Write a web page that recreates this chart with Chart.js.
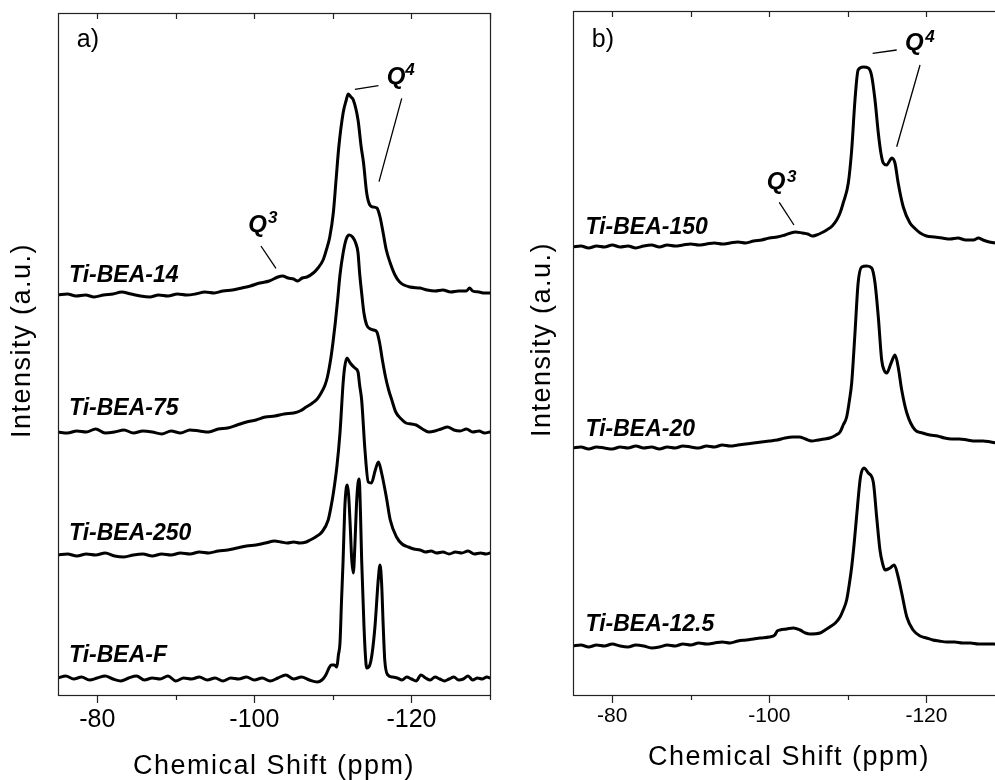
<!DOCTYPE html>
<html>
<head>
<meta charset="utf-8">
<script src="https://cdn.jsdelivr.net/npm/chart.js@4.4.0/dist/chart.umd.min.js"></script>
<style>
    html, body { margin: 0; padding: 0; background: #fff; overflow: hidden; width: 995px; height: 780px; }
    #panelA { position: absolute; left: 0; top: 0; }
    #panelB { position: absolute; left: 495px; top: 0; }
</style>
</head>
<body>
<canvas id="panelA" width="500" height="780"></canvas>
<canvas id="panelB" width="520" height="780"></canvas>
<script>
// 29Si MAS NMR spectra, [chemical shift (ppm), intensity (a.u., stacked offsets)]
const tiBea14 = [[-75,400],[-76.2,401],[-77.3,399],[-78.5,400],[-79.6,398],[-80.8,400],[-82,401],[-83.1,403],[-84.3,401],[-85.5,399],[-86.7,398],[-87.8,400],[-89,399],[-90.2,401],[-91.4,400],[-92.5,401],[-93.7,403],[-94.9,402],[-96,404],[-97.2,405],[-98.4,407],[-99.5,409],[-100.7,412],[-101.9,414],[-103,418],[-103.6,419],[-104.3,417],[-105,416],[-105.5,414],[-106.1,417],[-106.7,418],[-107.5,422],[-108.1,427],[-108.75,435],[-109.2,446],[-109.6,458],[-110.05,482],[-110.4,515],[-110.75,548],[-111.3,582],[-111.7,595],[-111.95,601],[-112.3,598],[-112.6,595],[-113.2,575],[-113.6,548],[-113.9,532],[-114.3,502],[-114.7,490],[-115.1,488],[-115.6,487],[-116.0,478],[-116.4,462],[-116.8,445],[-117.3,432],[-117.9,420],[-118.5,413],[-119.8,408],[-121.1,407],[-122,405],[-123,404],[-124,405],[-125,403],[-126,404],[-127,404],[-127.4,407],[-127.8,404],[-128.6,403],[-129.3,402],[-130,402]];
const tiBea75 = [[-75,263],[-76.2,262],[-77.4,264],[-78.6,263],[-79.8,266],[-81,262],[-82.2,263],[-83.4,265],[-84.6,262],[-85.8,264],[-87,263],[-88.2,261],[-89.4,264],[-90.6,262],[-91.8,265],[-93,264],[-94.2,263],[-95.4,266],[-96.6,267],[-97.8,270],[-99,273],[-100.2,275],[-101.4,278],[-102.6,279],[-103.8,281],[-105,282],[-105.8,284],[-106.6,288],[-107.4,292],[-108,296],[-108.5,302],[-109,310],[-109.3,318],[-109.7,335],[-110,352],[-110.3,372],[-110.6,395],[-110.9,420],[-111.3,442],[-111.7,456],[-112.08,460],[-112.5,458],[-112.9,452],[-113.2,442],[-113.4,422],[-113.66,402],[-113.95,382],[-114.3,370],[-114.8,366],[-115.2,365],[-115.6,363],[-115.95,352],[-116.3,335],[-116.7,318],[-117.1,305],[-117.5,295],[-118,283],[-118.7,276],[-119.3,272],[-120,271],[-120.6,270],[-121.4,266],[-122.2,263],[-123,264],[-123.8,266],[-124.6,268],[-125.4,265],[-126.2,264],[-127,266],[-127.8,263],[-128.6,264],[-129.3,262],[-130,263]];
const tiBea250 = [[-75,140],[-76.2,141],[-77.4,139],[-78.6,141],[-79.8,140],[-81,142],[-82.2,139],[-83.4,138],[-84.6,140],[-85.8,141],[-87,139],[-88.2,141],[-89.4,140],[-90.6,142],[-91.8,141],[-93,143],[-94.2,142],[-95.4,144],[-96.6,145],[-97.8,147],[-99,149],[-100.2,150],[-101.4,152],[-102.6,154],[-103.4,153],[-104.2,152],[-105,153],[-105.8,152],[-106.6,153],[-107.1,155],[-107.8,158],[-108.6,163],[-109.4,175],[-109.8,190],[-110.06,202],[-110.5,228],[-110.9,262],[-111.3,312],[-111.5,328],[-111.8,337],[-112.2,332],[-112.8,327],[-113.2,323],[-113.4,310],[-113.66,295],[-114.08,245],[-114.5,213],[-114.9,212],[-115.4,225],[-115.8,233],[-116.2,222],[-116.8,198],[-117.3,175],[-118.1,158],[-118.8,151],[-119.6,148],[-120.3,146],[-121.1,145],[-121.8,143],[-122.5,144],[-123.2,142],[-124,143],[-124.8,141],[-125.6,143],[-126.4,142],[-127.2,144],[-128,141],[-128.8,142],[-129.5,141],[-130,142]];
const tiBeaF = [[-75,17],[-76,19],[-77,16],[-78,18],[-79,15],[-80,17],[-81,19],[-82,16],[-83,14],[-84,17],[-85,19],[-86,15],[-87,17],[-88,16],[-89,19],[-90,14],[-91,17],[-92,16],[-93,18],[-94,15],[-95,17],[-96,14],[-97,17],[-98,16],[-99,18],[-100,15],[-101,17],[-102,14],[-103,17],[-104,20],[-105,16],[-106,18],[-107,15],[-108,13],[-108.6,15],[-109.1,20],[-109.5,27],[-109.8,30],[-110.2,30],[-110.5,28],[-110.7,40],[-110.9,52],[-111.1,95],[-111.3,135],[-111.5,185],[-111.7,207],[-111.85,210],[-112.0,200],[-112.2,170],[-112.4,135],[-112.6,122],[-112.8,150],[-113.0,190],[-113.2,212],[-113.35,216],[-113.5,185],[-113.66,135],[-113.96,68],[-114.15,38],[-114.3,27],[-114.7,30],[-115.0,42],[-115.35,68],[-115.8,118],[-116.0,130],[-116.2,112],[-116.4,70],[-116.6,35],[-117.0,20],[-117.6,18],[-118.2,17],[-118.8,15],[-119.4,18],[-120,16],[-120.6,14],[-121.2,20],[-121.8,17],[-122.4,15],[-123,18],[-123.6,16],[-124.2,14],[-124.8,16],[-125.4,18],[-126,15],[-126.6,16],[-127.2,19],[-127.8,15],[-128.4,17],[-129,16],[-129.6,18],[-130,17]];

const tiBea150 = [[-75,448],[-76,449],[-77,447],[-78,449],[-79,448],[-80,450],[-81,448],[-82,449],[-83,447],[-84,449],[-85,450],[-86,448],[-87,450],[-88,449],[-89,450],[-90,451],[-91,450],[-92,451],[-93,452],[-94,451],[-95,452],[-96,453],[-97,452],[-98,454],[-99,455],[-100,457],[-101,458],[-102,460],[-103.3,463],[-104.2,462],[-104.9,461],[-105.5,459],[-106,460],[-106.6,462],[-107.3,465],[-108,469],[-108.57,475],[-109,482],[-109.4,492],[-110.05,512],[-110.48,545],[-110.9,595],[-111.3,625],[-111.96,628],[-112.6,627],[-113.0,620],[-113.45,595],[-113.87,562],[-114.2,542],[-114.5,532],[-114.94,530],[-115.3,534],[-115.57,537],[-115.99,532],[-116.4,512],[-117.05,488],[-117.9,472],[-118.6,466],[-119.2,462],[-120,459],[-121,458],[-122,457],[-123,456],[-124,457],[-125,455],[-126,455],[-126.6,457],[-127.2,455],[-128,453],[-129,452],[-130,452]];
const tiBea20 = [[-75,247],[-76,248],[-77,246],[-78,248],[-79,247],[-80,246],[-81,248],[-82,247],[-83,249],[-84,247],[-85,248],[-86,246],[-87,248],[-88,247],[-89,249],[-90,248],[-91,247],[-92,249],[-93,248],[-94,250],[-95,249],[-96,250],[-97,251],[-98,252],[-99,253],[-100,254],[-101,255],[-102,257],[-103,258],[-103.8,258],[-104.6,256],[-105.4,254],[-106.2,255],[-107,256],[-107.7,257],[-108.5,260],[-109,263],[-109.4,270],[-109.84,278],[-110.2,295],[-110.48,312],[-110.9,362],[-111.3,412],[-111.75,428],[-112.4,429],[-113.03,427],[-113.45,412],[-113.87,378],[-114.3,335],[-114.6,325],[-114.94,322],[-115.5,332],[-116.0,340],[-116.4,328],[-116.85,305],[-117.5,282],[-118.55,265],[-119.5,262],[-120.45,260],[-121.4,259],[-122.3,257],[-123.2,256],[-124.2,256],[-125.2,255],[-126.2,254],[-127.2,254],[-128.2,253],[-129.2,252],[-130,252]];
const tiBea125 = [[-75,49],[-76,50],[-77,48],[-78,50],[-79,49],[-80,51],[-81,49],[-82,48],[-83,50],[-84,49],[-85,47],[-86,48],[-87,50],[-88,49],[-89,51],[-90,50],[-91,52],[-92,51],[-93,52],[-94,53],[-95,52],[-96,54],[-97,55],[-98,56],[-98.8,57],[-100,58],[-100.7,60],[-101,64],[-101.35,65],[-102.2,66],[-103.05,67],[-103.9,65],[-104.6,62],[-105.2,61],[-106.45,62],[-107.1,65],[-107.7,68],[-108.4,72],[-109,78],[-109.4,85],[-109.84,95],[-110.2,112],[-110.48,128],[-110.8,152],[-111.1,178],[-111.6,218],[-112.04,227],[-112.6,222],[-113.23,213],[-113.66,178],[-114.08,145],[-114.4,132],[-114.72,125],[-115.36,127],[-115.9,130],[-116.4,118],[-116.85,102],[-117.5,78],[-118.3,65],[-119.2,59],[-120,57],[-120.8,55],[-121.6,54],[-122.6,53],[-123.6,53],[-124.6,52],[-125.6,52],[-126.6,51],[-127.6,51],[-128.6,51],[-129.4,50],[-130,51]];

const seriesA = [tiBea14, tiBea75, tiBea250, tiBeaF];
const seriesB = [tiBea150, tiBea20, tiBea125];
const namesA = ['Ti-BEA-14', 'Ti-BEA-75', 'Ti-BEA-250', 'Ti-BEA-F'];
const namesB = ['Ti-BEA-150', 'Ti-BEA-20', 'Ti-BEA-12.5'];

const shiftTicks = [-80, -90, -100, -110, -120, -130];
const shiftLabels = [-80, -100, -120];

// where the sample names sit (shift, intensity of text baseline)
const namePosA = [[-76.4, 413], [-76.4, 280], [-76.4, 155], [-76.4, 33]];
const namePosB = [[-76.6, 461], [-76.6, 259], [-76.6, 64]];

// Q3 / Q4 marks: text anchor, superscript anchor, leader lines
const qMarksA = [
    {q: '4', at: [-116.85, 611], sup: [-119.2, 620], lines: [[[-112.8, 605.7], [-115.8, 609.3]], [[-118.76, 596.7], [-115.87, 513.3]]]},
    {q: '3', at: [-99.23, 463], sup: [-101.75, 471.7], lines: [[[-100.84, 449], [-102.75, 426.7]]]}
];
const qMarksB = [
    {q: '4', at: [-117.27, 645.5], sup: [-119.85, 653.3], lines: [[[-113.15, 641.7], [-116.21, 645]], [[-119.18, 630], [-116.21, 548.3]]]},
    {q: '3', at: [-99.66, 506.5], sup: [-102.25, 513.3], lines: [[[-101.26, 492.7], [-103.13, 470]]]}
];

const FONT = "'Liberation Sans', Arial, sans-serif";

const panelPlugin = {
    id: 'panel',
    beforeDraw(chart) {
        // axis titles in the original are drawn a bit spaced out
        for (const s of [chart.scales.x, chart.scales.y]) {
            if (s._spaced) continue;
            const orig = s.drawTitle;
            s.drawTitle = function() {
                this.ctx.save();
                this.ctx.letterSpacing = '1.5px';
                orig.call(this);
                this.ctx.restore();
            };
            s._spaced = true;
        }
    },
    afterDatasetsDraw(chart, args, opts) {
        const {ctx, chartArea: a, scales: {x, y}} = chart;
        ctx.save();

        // frame
        ctx.strokeStyle = '#222';
        ctx.lineWidth = 1.2;
        ctx.strokeRect(a.left + 0.5, a.top + 0.5, a.right - a.left, a.bottom - a.top);

        // ticks: outward at the bottom, inward at the top
        ctx.beginPath();
        for (const v of shiftTicks) {
            const px = Math.round(x.getPixelForValue(v)) + 0.5;
            const major = shiftLabels.includes(v);
            ctx.moveTo(px, a.bottom);
            ctx.lineTo(px, a.bottom + (major ? 8 : 5));
            ctx.moveTo(px, a.top);
            ctx.lineTo(px, a.top + 6);
        }
        ctx.stroke();

        ctx.fillStyle = '#000';
        ctx.textBaseline = 'alphabetic';
        ctx.textAlign = 'left';

        // panel letter
        ctx.font = '25px ' + FONT;
        ctx.fillText(opts.letter, x.getPixelForValue(-77.4), y.getPixelForValue(648));

        // sample names
        ctx.font = 'italic bold 23px ' + FONT;
        opts.names.forEach((n, i) => {
            const p = opts.namePos[i];
            ctx.fillText(n, x.getPixelForValue(p[0]), y.getPixelForValue(p[1]));
        });

        // Q marks
        ctx.lineWidth = 1.3;
        ctx.strokeStyle = '#000';
        for (const m of opts.qMarks) {
            ctx.font = 'italic bold 24px ' + FONT;
            ctx.fillText('Q', x.getPixelForValue(m.at[0]), y.getPixelForValue(m.at[1]));
            ctx.font = 'italic bold 17px ' + FONT;
            ctx.fillText(m.q, x.getPixelForValue(m.sup[0]), y.getPixelForValue(m.sup[1]));
            ctx.beginPath();
            for (const l of m.lines) {
                ctx.moveTo(x.getPixelForValue(l[0][0]), y.getPixelForValue(l[0][1]));
                ctx.lineTo(x.getPixelForValue(l[1][0]), y.getPixelForValue(l[1][1]));
            }
            ctx.stroke();
        }
        ctx.restore();
    }
};

function createPanel(id, series, p) {
    const ctx = document.getElementById(id).getContext('2d');
    return new Chart(ctx, {
        type: 'line',
        data: {
            datasets: series.map(s => ({
                data: s,
                borderColor: '#000',
                borderWidth: 3,
                pointRadius: 0,
                fill: false,
                cubicInterpolationMode: 'monotone',
                borderJoinStyle: 'round',
                borderCapStyle: 'round'
            }))
        },
        options: {
            responsive: false,
            animation: false,
            events: [],
            layout: { padding: { top: p.top, right: 10, left: 0, bottom: 0 } },
            scales: {
                x: {
                    type: 'linear',
                    min: -130,
                    max: -75,
                    reverse: true,
                    afterBuildTicks: s => { s.ticks = shiftTicks.map(v => ({ value: v })); },
                    afterFit: s => { s.height = 85; },
                    grid: { display: false, drawTicks: false },
                    border: { display: false },
                    ticks: {
                        autoSkip: false,
                        maxRotation: 0,
                        padding: p.tickPad,
                        color: '#000',
                        font: { family: FONT, size: p.tickSize },
                        callback: v => shiftLabels.includes(v) ? String(v) : ''
                    },
                    title: {
                        display: true,
                        text: 'Chemical Shift (ppm)',
                        color: '#000',
                        font: { family: FONT, size: 27, lineHeight: 1 },
                        padding: { top: 0, bottom: p.titlePad }
                    }
                },
                y: {
                    min: 0,
                    max: p.yMax,
                    afterFit: s => { s.width = p.yWidth; },
                    grid: { display: false, drawTicks: false },
                    border: { display: false },
                    ticks: { display: false },
                    title: {
                        display: true,
                        text: '   Intensity (a.u.)',
                        color: '#000',
                        font: { family: FONT, size: 27, lineHeight: 1 },
                        padding: { top: p.yTitlePad, bottom: 0 }
                    }
                }
            },
            plugins: {
                legend: { display: false },
                tooltip: { enabled: false },
                panel: { letter: p.letter, names: p.names, namePos: p.namePos, qMarks: p.qMarks }
            }
        },
        plugins: [panelPlugin]
    });
}

window.onload = function() {
    createPanel('panelA', seriesA, {
        top: 13, yMax: 682, yWidth: 58, tickSize: 25, tickPad: 10, titlePad: 0, yTitlePad: 9,
        letter: 'a)', names: namesA, namePos: namePosA, qMarks: qMarksA
    });
    createPanel('panelB', seriesB, {
        top: 11, yMax: 684, yWidth: 78, tickSize: 21, tickPad: 9, titlePad: 9, yTitlePad: 34,
        letter: 'b)', names: namesB, namePos: namePosB, qMarks: qMarksB
    });
};
</script>
</body>
</html>
